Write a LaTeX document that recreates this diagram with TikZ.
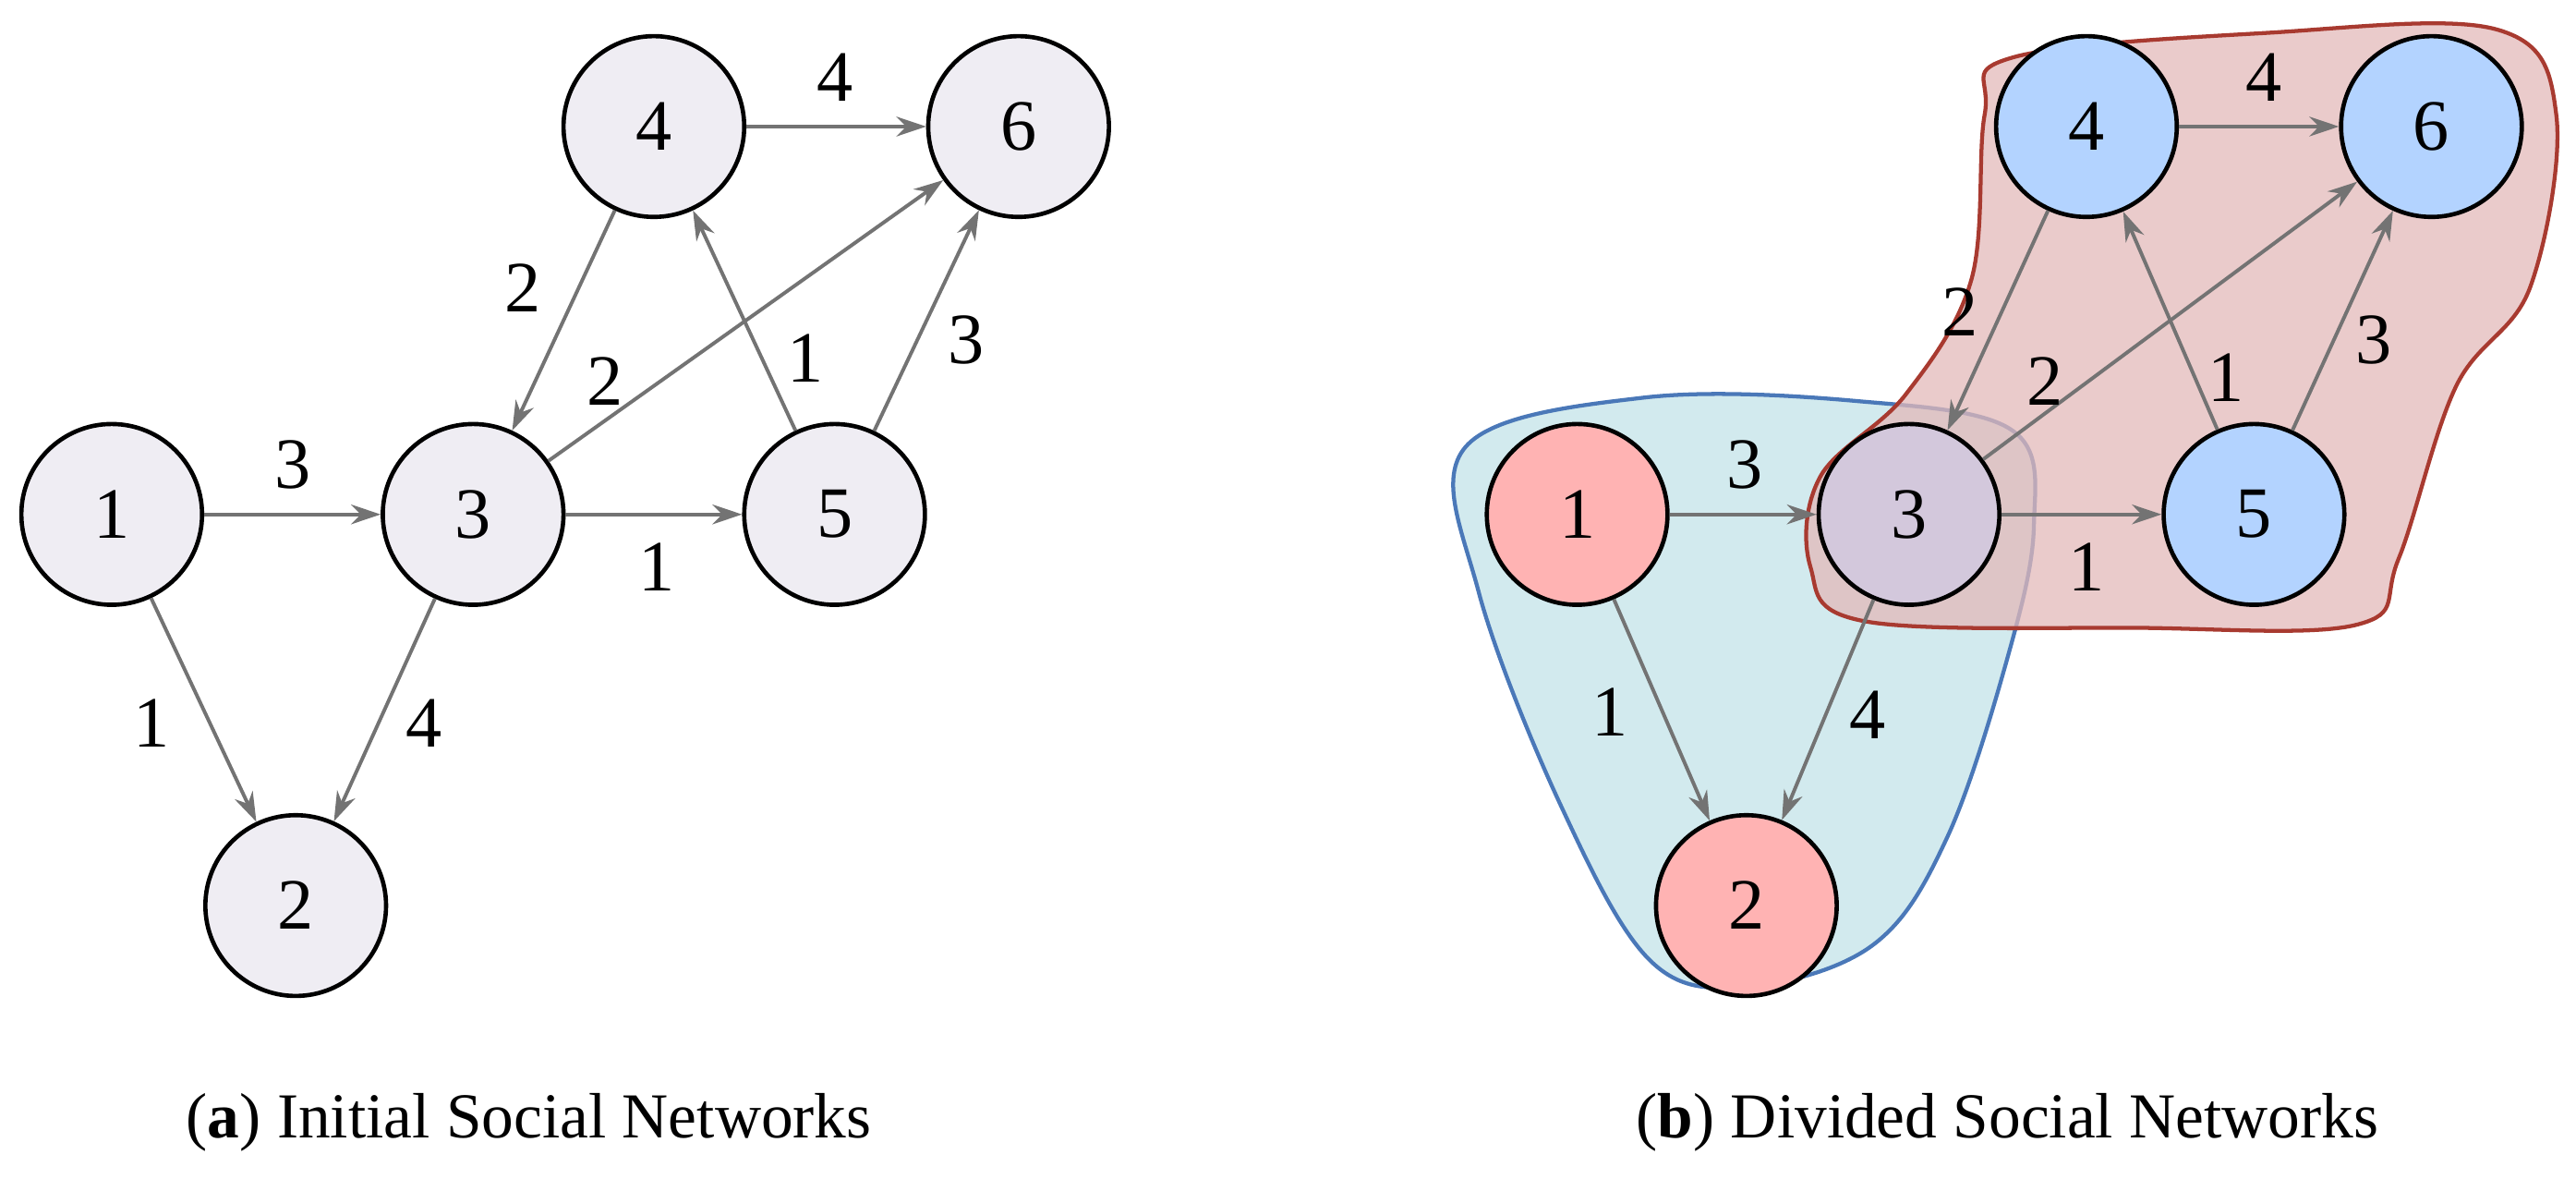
\documentclass[tikz,border=0pt]{standalone}
\usepackage{fontspec}
\setmainfont{Liberation Serif}
\usetikzlibrary{arrows.meta}
\definecolor{bnode}{HTML}{B3D3FF}
\definecolor{rnode}{HTML}{FFB3B3}
\definecolor{pnode}{HTML}{D3C8DC}
\definecolor{gnode}{HTML}{EFEDF3}
\definecolor{bfill}{HTML}{D2EAEE}
\definecolor{bline}{HTML}{4A78B8}
\definecolor{rfill}{HTML}{E3B9B9}
\definecolor{rline}{HTML}{A83A30}
\begin{document}
\begin{tikzpicture}[x=0.5pt,y=-0.5pt,
 nd/.style={circle,draw=black,line width=1.3pt,minimum size=110*0.5pt,inner sep=0pt,font=\fontsize{22}{24}\selectfont},
 g/.style={nd,fill=gnode},
 r/.style={nd,fill=rnode},
 b/.style={nd,fill=bnode},
 p/.style={nd,fill=pnode},
 e/.style={draw=gray!110,line width=1.1pt,-{Stealth[length=9pt,width=6pt]}},
 lb/.style={font=\fontsize{22}{24}\selectfont},
 captxt/.style={font=\fontsize{19.5}{22}\selectfont}]
\useasboundingbox (0,0) rectangle (1568,717);
% blobs
\draw[fill=bfill,draw=bline,line width=1.2pt]
 plot[smooth cycle,tension=0.6] coordinates{(892,272) (1000,242) (1130,244) (1225,262) (1238,320) (1222,400) (1185,510) (1140,575) (1065,600) (1005,585) (950,490) (900,360)};
\draw[fill=rfill,fill opacity=0.75,draw=rline,line width=1.2pt]
 plot[smooth cycle,tension=0.6] coordinates{(1225,35) (1380,20) (1520,18) (1556,70) (1540,175) (1495,235) (1460,340) (1435,380) (1300,382) (1135,378) (1102,345) (1108,290) (1160,240) (1200,170) (1208,70)};
% left graph
\node[g] (a1) at (68,313) {1};
\node[g] (a3) at (288,313) {3};
\node[g] (a5) at (508,313) {5};
\node[g] (a2) at (180,551) {2};
\node[g] (a4) at (398,77) {4};
\node[g] (a6) at (620,77) {6};
\draw[e] (a1) -- (a3); \draw[e] (a3) -- (a5); \draw[e] (a1) -- (a2); \draw[e] (a3) -- (a2);
\draw[e] (a4) -- (a3); \draw[e] (a3) -- (a6); \draw[e] (a5) -- (a4); \draw[e] (a5) -- (a6); \draw[e] (a4) -- (a6);
\node[lb] (l1) at (178,283) {3}; \node[lb] (l2) at (400,345) {1}; \node[lb] (l3) at (92,440) {1};
\node[lb] (l4) at (258,440) {4}; \node[lb] (l5) at (318,175) {2}; \node[lb] (l6) at (368,232) {2};
\node[lb] (l7) at (490,218) {1}; \node[lb] (l8) at (588,207) {3}; \node[lb] (l9) at (508,47) {4};
% right graph
\node[r] (b1) at (960,313) {1};
\node[p] (b3) at (1162,313) {3};
\node[b] (b5) at (1372,313) {5};
\node[r] (b2) at (1063,551) {2};
\node[b] (b4) at (1270,77) {4};
\node[b] (b6) at (1480,77) {6};
\draw[e] (b1) -- (b3); \draw[e] (b3) -- (b5); \draw[e] (b1) -- (b2); \draw[e] (b3) -- (b2);
\draw[e] (b4) -- (b3); \draw[e] (b3) -- (b6); \draw[e] (b5) -- (b4); \draw[e] (b5) -- (b6); \draw[e] (b4) -- (b6);
\node[lb] (m1) at (1062,283) {3}; \node[lb] (m2) at (1270,345) {1}; \node[lb] (m3) at (980,433) {1};
\node[lb] (m4) at (1137,435) {4}; \node[lb] (m5) at (1193,190) {2}; \node[lb] (m6) at (1245,232) {2};
\node[lb] (m7) at (1355,230) {1}; \node[lb] (m8) at (1445,207) {3}; \node[lb] (m9) at (1378,47) {4};
% captions
\node[captxt] (c1) at (322,683) {(\textbf{a}) Initial Social Networks};
\node[captxt] (c2) at (1222,683) {(\textbf{b}) Divided Social Networks};
\end{tikzpicture}
\end{document}
